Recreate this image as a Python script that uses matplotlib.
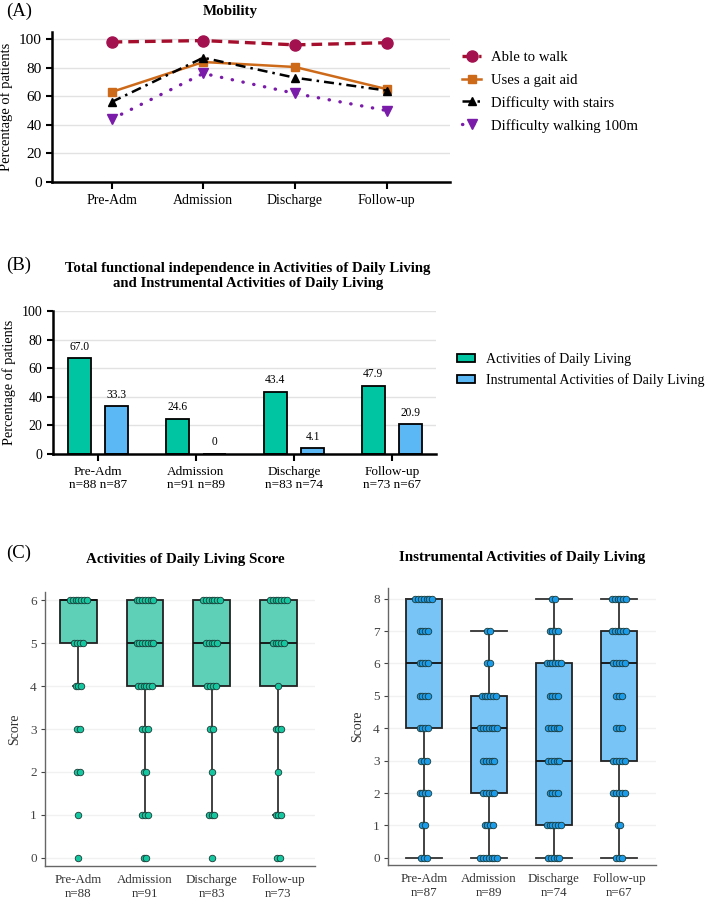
import numpy as np
import matplotlib.pyplot as plt
from matplotlib.patches import Patch

plt.rcParams['font.family'] = 'Liberation Serif'

stages = ['Pre-Adm', 'Admission', 'Discharge', 'Follow-up']

# (A) mobility, % of patients
able_walk = [98, 99, 96, 97.5]
gait_aid = [63, 84, 80.5, 65]
stairs = [56, 87, 73, 64]
walk_100m = [44, 76, 62, 50]

# (B) total functional independence, % of patients
adl_indep = [67.0, 24.6, 43.4, 47.9]
iadl_indep = [33.3, 0, 4.1, 20.9]
adl_n = [88, 91, 83, 73]
iadl_n = [87, 89, 74, 67]

# (C) box summaries per stage
adl_q1 = [5, 4, 4, 4]
adl_med = [6, 5, 5, 5]
adl_q3 = [6, 6, 6, 6]
adl_lo = [4, 1, 1, 1]
adl_hi = [6, 6, 6, 6]

iadl_q1 = [4, 2, 1, 3]
iadl_med = [6, 4, 3, 6]
iadl_q3 = [8, 5, 6, 7]
iadl_lo = [0, 0, 0, 0]
iadl_hi = [8, 7, 8, 8]

# visible dots at each score (list index = score)
adl_dots = [
    [1, 1, 2, 2, 3, 4, 7],
    [2, 3, 2, 3, 6, 7, 7],
    [1, 3, 1, 2, 4, 5, 7],
    [2, 3, 1, 3, 1, 5, 7],
]
iadl_dots = [
    [3, 2, 4, 3, 4, 4, 4, 4, 7],
    [7, 4, 5, 5, 7, 6, 2, 2, 0],
    [5, 6, 4, 5, 5, 4, 6, 4, 2],
    [3, 2, 5, 5, 3, 3, 5, 6, 6],
]

W, H = 709, 901


def px_box(l, t, r, b):
    # axes rectangle from pixel edges (top-left origin)
    return [l / W, 1 - b / H, (r - l) / W, (b - t) / H]


fig = plt.figure(figsize=(W / 100, H / 100), dpi=100)
x = np.arange(len(stages))

# ---------------- (A) Mobility ----------------
ax = fig.add_axes(px_box(52, 32, 450, 182))
l1, = ax.plot(x, able_walk, color='#A50F2D', lw=2.4, ls=(0, (3.2, 1.8)),
              marker='o', ms=8, mfc='#A3124F', mec='#A3124F', label='Able to walk')
l2, = ax.plot(x, gait_aid, color='#CD6A1A', lw=1.8,
              marker='s', ms=6, mfc='#CD6A1A', mec='#CD6A1A', label='Uses a gait aid')
l3, = ax.plot(x, stairs, color='black', lw=1.8, ls=(0, (4, 2, 1, 2)),
              marker='^', ms=6, label='Difficulty with stairs')
l4, = ax.plot(x, walk_100m, color='#7A1BAA', lw=2.4, ls=(0, (0.1, 3.2)),
              dash_capstyle='round', marker='v', ms=7.5, label='Difficulty walking 100m')
ax.set_xlim(-0.65, 3.69)
ax.set_ylim(0, 105)
ax.set_yticks(range(0, 101, 20))
ax.set_xticks(x, stages, fontsize=10)
ax.tick_params(axis='y', labelsize=11, width=1.5, length=4)
ax.tick_params(axis='x', width=1.5, length=5)
for v in range(20, 101, 20):
    ax.axhline(v, color='#E2E2E2', lw=1, zorder=0)
for s in ['top', 'right']:
    ax.spines[s].set_visible(False)
for s in ['left', 'bottom']:
    ax.spines[s].set_linewidth(1.8)
ax.set_ylabel('Percentage of patients', fontsize=10.5, labelpad=4)
fig.text(230 / W, 1 - 12 / H, 'Mobility', ha='center', va='center',
         weight='bold', fontsize=10.8)
fig.text(6 / W, 1 - 11 / H, '(A)', va='center', fontsize=13.5)
fig.legend(handles=[l1, l2, l3, l4], loc='upper left',
           bbox_to_anchor=(462 / W, 1 - 51 / H), frameon=False, fontsize=10.6,
           handlelength=1.3, handletextpad=0.7, labelspacing=0.62,
           borderpad=0, borderaxespad=0, numpoints=1)

# ---------------- (B) Total functional independence ----------------
ax = fig.add_axes(px_box(53, 311, 436, 454))
w, off = 0.24, 0.19
adl_color, iadl_color = '#00C5A3', '#5BB8F5'
ax.bar(x - off, adl_indep, w, color=adl_color, edgecolor='black', lw=1.3, zorder=2)
ax.bar(x + off, iadl_indep, w, color=iadl_color, edgecolor='black', lw=1.3, zorder=2)
for xs, vals in [(x - off, adl_indep), (x + off, iadl_indep)]:
    for xi, v in zip(xs, vals):
        ax.annotate(f'{v:.1f}' if v else '0', (xi, v), xytext=(0, 4),
                    textcoords='offset points', ha='center', va='bottom', fontsize=8.3)
ax.set_xlim(-0.46, 3.45)
ax.set_ylim(0, 100)
ax.set_yticks(range(0, 101, 20))
ax.set_xticks(x, [f'{s}\nn={a} n={b}' for s, a, b in zip(stages, adl_n, iadl_n)],
              fontsize=9.5, linespacing=1.1)
ax.tick_params(axis='y', labelsize=10, width=1.5, length=4)
ax.tick_params(axis='x', width=1.5, length=5)
for v in range(20, 101, 20):
    ax.axhline(v, color='#E2E2E2', lw=1, zorder=0)
for s in ['top', 'right']:
    ax.spines[s].set_visible(False)
for s in ['left', 'bottom']:
    ax.spines[s].set_linewidth(1.8)
ax.set_ylabel('Percentage of patients', fontsize=10.3, labelpad=4)
fig.text(248 / W, 1 - 276 / H,
         'Total functional independence in Activities of Daily Living\n'
         'and Instrumental Activities of Daily Living',
         ha='center', va='center', weight='bold', fontsize=10.6, linespacing=1.23)
fig.text(6 / W, 1 - 265 / H, '(B)', va='center', fontsize=13.5)
fig.legend(handles=[Patch(facecolor=adl_color, edgecolor='black', lw=1.3),
                    Patch(facecolor=iadl_color, edgecolor='black', lw=1.3)],
           labels=['Activities of Daily Living', 'Instrumental Activities of Daily Living'],
           loc='upper left', bbox_to_anchor=(457 / W, 1 - 352 / H), frameon=False,
           fontsize=10.1, handlelength=1.3, handleheight=0.5, handletextpad=0.8,
           labelspacing=0.55, borderpad=0, borderaxespad=0)


# ---------------- (C) Box plots ----------------
def score_panel(rect, q1, med, q3, lo, hi, dots, n, face, dot_color, ylim, capw, spacing):
    ax = fig.add_axes(rect)
    stats = [dict(q1=a, med=m, q3=b, whislo=wl, whishi=wh, fliers=[])
             for a, m, b, wl, wh in zip(q1, med, q3, lo, hi)]
    ax.bxp(stats, positions=x, widths=0.55, capwidths=capw, showfliers=False,
           patch_artist=True,
           boxprops=dict(facecolor=face, edgecolor='#222222', lw=1.3),
           medianprops=dict(color='#111111', lw=1.3),
           whiskerprops=dict(color='#333333', lw=1.3),
           capprops=dict(color='#333333', lw=1.3))
    for i, counts in enumerate(dots):
        for score, k in enumerate(counts):
            if k == 0:
                continue
            xs = i + (np.arange(k) - (k - 1) / 2) * spacing
            ax.scatter(xs, np.full(k, score), s=22, color=dot_color,
                       edgecolors='#1c3a36', linewidths=0.6, zorder=3)
    top = len(dots[0]) - 1
    ax.set_ylim(*ylim)
    ax.set_yticks(range(0, top + 1))
    for v in range(0, top + 1):
        ax.axhline(v, color='#F1F1F1', lw=1, zorder=0)
    ax.set_xticks(x, [f'{s}\nn={k}' for s, k in zip(stages, n)],
                  fontsize=9.3, linespacing=1.15)
    ax.tick_params(axis='x', length=0, pad=6, colors='#333333')
    ax.tick_params(axis='y', length=3, width=0.8, labelsize=9.5,
                   colors='#444444', pad=3)
    for s in ['top', 'right']:
        ax.spines[s].set_visible(False)
    for s in ['left', 'bottom']:
        ax.spines[s].set_color('#666666')
        ax.spines[s].set_linewidth(1.0)
    ax.set_ylabel('Score', fontsize=10, color='#333333')
    return ax


ax = score_panel(px_box(45, 592, 315, 866), adl_q1, adl_med, adl_q3, adl_lo, adl_hi,
                 adl_dots, adl_n, '#5FD0B8', '#14C7A0', (-0.19, 6.19), 0.15, 0.042)
ax.set_xlim(-0.5, 3.55)
ax.yaxis.set_label_coords(-0.09, 0.5)

ax = score_panel(px_box(388, 588, 656, 865), iadl_q1, iadl_med, iadl_q3, iadl_lo, iadl_hi,
                 iadl_dots, iadl_n, '#79C4F7', '#1B9CEB', (-0.22, 8.33), 0.55, 0.043)
ax.set_xlim(-0.55, 3.57)
ax.yaxis.set_label_coords(-0.09, 0.5)

fig.text(185 / W, 1 - 560 / H, 'Activities of Daily Living Score', ha='center',
         va='center', weight='bold', fontsize=10.8)
fig.text(522 / W, 1 - 558 / H, 'Instrumental Activities of Daily Living', ha='center',
         va='center', weight='bold', fontsize=10.8)
fig.text(6 / W, 1 - 553 / H, '(C)', va='center', fontsize=13.5)

fig.savefig('out.png', dpi=100)
